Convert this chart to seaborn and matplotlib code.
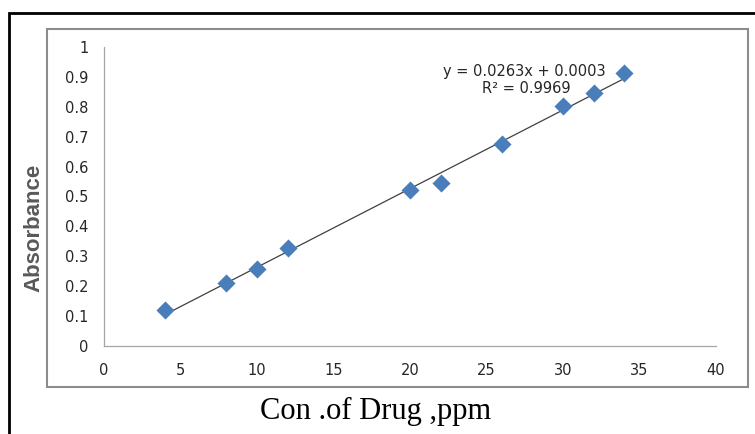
import numpy as np
import pandas as pd
import matplotlib
matplotlib.use("Agg")
import matplotlib.pyplot as plt
import seaborn as sns
from matplotlib.patches import Rectangle

conc = [4, 8, 10, 12, 20, 22, 26, 30, 32, 34]
absorbance = [0.121, 0.212, 0.256, 0.328, 0.522, 0.545, 0.676, 0.803, 0.846, 0.912]
slope = 0.0263
intercept = 0.0003
r2 = 0.9969
x_ticks = [0, 5, 10, 15, 20, 25, 30, 35, 40]
y_ticks = [0, 0.1, 0.2, 0.3, 0.4, 0.5, 0.6, 0.7, 0.8, 0.9, 1]
y_tick_labels = ["0", "0.1", "0.2", "0.3", "0.4", "0.5", "0.6", "0.7", "0.8", "0.9", "1"]

df = pd.DataFrame({"conc": conc, "abs": absorbance})

sns.set_style("white")
plt.rcParams['font.family'] = ['DejaVu Sans']

W, H = 755, 434
fig = plt.figure(figsize=(W / 100, H / 100), dpi=100)
ax = fig.add_axes([104 / W, 1 - 346 / H, (716 - 104) / W, (346 - 47) / H])

# frames
fig.patches.append(Rectangle((9 / W, -0.2), 1.2, 1.2 - 13 / H, transform=fig.transFigure,
                             fill=False, edgecolor="black", linewidth=2.0, clip_on=False))
fig.patches.append(Rectangle((47 / W, 1 - 387 / H), (748 - 47) / W, (387 - 29) / H,
                             transform=fig.transFigure, fill=False, edgecolor="#8c8c8c",
                             linewidth=1.5, clip_on=False))

# trendline from stated fit
xs = np.array([min(conc), max(conc)])
sns.lineplot(x=xs, y=slope * xs + intercept, ax=ax, color="#404040", linewidth=0.9)
sns.scatterplot(data=df, x="conc", y="abs", ax=ax, marker="D", s=85,
                color="#4a7ebb", edgecolor="#4a7ebb", linewidth=0, zorder=3)

ax.set_xlim(0, 40)
ax.set_ylim(0, 1)
ax.set_xticks(x_ticks)
ax.set_xticklabels([str(t) for t in x_ticks])
ax.set_yticks(y_ticks)
ax.set_yticklabels(y_tick_labels)

for s in ["top", "right"]:
    ax.spines[s].set_visible(False)
for s in ["left", "bottom"]:
    ax.spines[s].set_color("#a6a6a6")
    ax.spines[s].set_linewidth(0.9)

ax.tick_params(axis="both", which="both", direction="out", length=5, width=0.9,
               color="#a6a6a6", labelsize=10.5, labelcolor="#262626", pad=6)
ax.tick_params(axis="x", pad=7)

ax.set_xlabel("")
ax.set_ylabel("")
fig.text(376 / W, 1 - 411 / H, "Con .of Drug ,ppm", ha="center", va="center",
         fontsize=22, family="Liberation Serif", color="black")
fig.text(34 / W, 1 - 228 / H, "Absorbance", rotation=90, ha="center", va="center",
         fontsize=16, fontweight="bold", color="#595959", family="Liberation Sans")

ax.text(0.686, 0.918, f"y = {slope}x + {intercept:.4f}", transform=ax.transAxes,
        ha="center", va="center", fontsize=10.5, color="#262626")
ax.text(0.690, 0.862, f"R² = {r2}", transform=ax.transAxes,
        ha="center", va="center", fontsize=10.5, color="#262626")

fig.savefig("out.png", dpi=100)
